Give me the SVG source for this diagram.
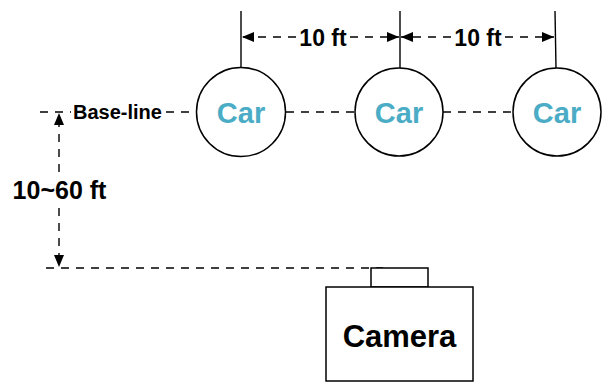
<svg xmlns="http://www.w3.org/2000/svg" width="602" height="383" viewBox="0 0 602 383">
<style>
.dash{fill:none;stroke:#000;stroke-width:1.4;stroke-dasharray:8 7}
.solid{fill:none;stroke:#000;stroke-width:1.4}
.node{fill:#fff;stroke:#000;stroke-width:1.5}
.lbl{font-family:"Liberation Sans",Arial,sans-serif;font-weight:bold;fill:#000}
.car{font-family:"Liberation Sans",Arial,sans-serif;font-weight:bold;fill:#4BACC6;font-size:29px}
</style>
<defs>
<marker id="ah" viewBox="0 0 12 10" refX="12" refY="5" markerWidth="12" markerHeight="10" markerUnits="userSpaceOnUse" orient="auto">
<path d="M0,0 L12,5 L0,10 z" fill="#000" stroke="none"/>
</marker>
</defs>
<rect width="602" height="383" fill="#fff"/>
<g id="connectors">
<line class="solid" x1="241" y1="11" x2="241" y2="68"/>
<line class="solid" x1="400" y1="11" x2="400" y2="68"/>
<line class="solid" x1="555" y1="11" x2="556" y2="68"/>
<line class="dash" x1="296" y1="37" x2="242" y2="37" marker-end="url(#ah)"/>
<line class="dash" x1="350" y1="37" x2="399" y2="37" marker-end="url(#ah)"/>
<line class="dash" x1="451" y1="37" x2="401" y2="37" marker-end="url(#ah)"/>
<line class="dash" x1="505" y1="37" x2="554" y2="37" marker-end="url(#ah)"/>
<line class="dash" x1="40" y1="112" x2="71" y2="112"/>
<line class="dash" x1="166" y1="112" x2="197" y2="112"/>
<line class="dash" x1="286" y1="112" x2="355" y2="112"/>
<line class="dash" x1="443" y1="112" x2="513" y2="112"/>
<line class="dash" x1="59" y1="172" x2="59" y2="113" marker-end="url(#ah)"/>
<line class="dash" x1="59" y1="208" x2="59" y2="267" marker-end="url(#ah)"/>
<line class="dash" x1="46" y1="268" x2="383" y2="268"/>
</g>
<g id="car1"><circle class="node" cx="241" cy="112" r="44.5"/><text class="car" x="241" y="123" text-anchor="middle">Car</text></g>
<g id="car2"><circle class="node" cx="399" cy="112" r="44"/><text class="car" x="399" y="123" text-anchor="middle">Car</text></g>
<g id="car3"><circle class="node" cx="557" cy="112" r="44"/><text class="car" x="557" y="123" text-anchor="middle">Car</text></g>
<g id="camera">
<rect class="node" x="371" y="268" width="57" height="19"/>
<rect class="node" x="326" y="287" width="147" height="94"/>
<text class="lbl" x="399.5" y="347" font-size="31" text-anchor="middle">Camera</text>
</g>
<g id="labels">
<text class="lbl" x="117.5" y="119" font-size="20" text-anchor="middle">Base-line</text>
<text class="lbl" x="59.5" y="199" font-size="25" text-anchor="middle">10~60 ft</text>
<text class="lbl" x="323" y="46" font-size="23" text-anchor="middle">10 ft</text>
<text class="lbl" x="478" y="46" font-size="23" text-anchor="middle">10 ft</text>
</g>
</svg>
